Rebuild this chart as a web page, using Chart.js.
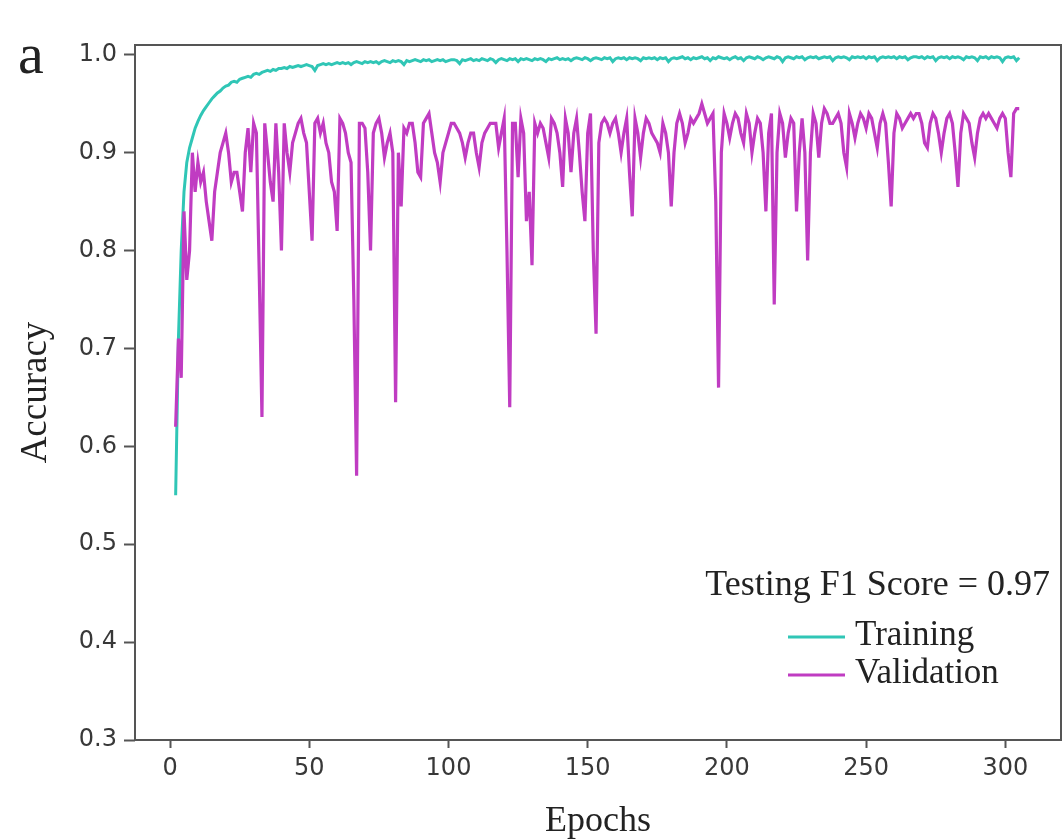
<!DOCTYPE html>
<html>
<head>
<meta charset="utf-8">
<script src="https://cdn.jsdelivr.net/npm/chart.js@4.4.0/dist/chart.umd.min.js"></script>
<style>
  html, body { margin: 0; padding: 0; background: #fff; }
  #wrap { width: 1063px; height: 839px; }
</style>
</head>
<body>
<div id="wrap"><canvas id="acc" width="1063" height="839"></canvas></div>
<script>
// accuracy curves, one value per epoch starting at firstEpoch
const firstEpoch = 2;

const training = [
  0.55, 0.71, 0.80, 0.86, 0.89, 0.905, 0.915, 0.925, 0.932, 0.938,
  0.943, 0.947, 0.951, 0.955, 0.958, 0.961, 0.963, 0.966, 0.968, 0.969,
  0.972, 0.973, 0.972, 0.975, 0.976, 0.977, 0.978, 0.977, 0.980, 0.981,
  0.980, 0.982, 0.983, 0.984, 0.983, 0.985, 0.984, 0.986, 0.986, 0.987,
  0.986, 0.988, 0.987, 0.988, 0.989, 0.988, 0.989, 0.990, 0.989, 0.988,
  0.984, 0.989, 0.990, 0.991, 0.990, 0.991, 0.990, 0.991, 0.992, 0.991,
  0.992, 0.991, 0.992, 0.990, 0.992, 0.993, 0.992, 0.991, 0.993, 0.992,
  0.993, 0.992, 0.993, 0.991, 0.993, 0.994, 0.993, 0.992, 0.994, 0.993,
  0.994, 0.993, 0.990, 0.994, 0.993, 0.994, 0.995, 0.994, 0.993, 0.995,
  0.994, 0.995, 0.993, 0.994, 0.995, 0.994, 0.995, 0.993, 0.994, 0.995,
  0.995, 0.994, 0.991, 0.995, 0.994, 0.995, 0.996, 0.994, 0.995, 0.994,
  0.996, 0.995, 0.994, 0.996, 0.995, 0.992, 0.995, 0.996, 0.995, 0.994,
  0.996, 0.995, 0.996, 0.993, 0.996, 0.995, 0.996, 0.995, 0.994, 0.996,
  0.995, 0.996, 0.995, 0.993, 0.996, 0.995, 0.996, 0.997, 0.995, 0.996,
  0.995, 0.996, 0.994, 0.996, 0.997, 0.996, 0.995, 0.997, 0.996, 0.994,
  0.996, 0.997, 0.996, 0.995, 0.997, 0.996, 0.997, 0.993, 0.996, 0.997,
  0.996, 0.997, 0.995, 0.997, 0.996, 0.997, 0.996, 0.994, 0.997, 0.996,
  0.997, 0.996, 0.997, 0.995, 0.997, 0.996, 0.997, 0.993, 0.996, 0.997,
  0.996, 0.997, 0.998, 0.996, 0.997, 0.995, 0.997, 0.996, 0.997, 0.998,
  0.996, 0.997, 0.994, 0.997, 0.996, 0.998, 0.997, 0.996, 0.997, 0.995,
  0.997, 0.998, 0.996, 0.997, 0.994, 0.997, 0.998, 0.997, 0.996, 0.998,
  0.997, 0.995, 0.997, 0.998, 0.997, 0.996, 0.998, 0.997, 0.993, 0.997,
  0.998, 0.997, 0.996, 0.998, 0.997, 0.998, 0.995, 0.997, 0.998, 0.997,
  0.998, 0.996, 0.997, 0.998, 0.997, 0.998, 0.994, 0.997, 0.998, 0.997,
  0.998, 0.997, 0.995, 0.998, 0.997, 0.998, 0.997, 0.998, 0.996, 0.998,
  0.997, 0.998, 0.994, 0.997, 0.998, 0.997, 0.998, 0.997, 0.998, 0.996,
  0.998, 0.997, 0.998, 0.995, 0.997, 0.998, 0.998, 0.997, 0.998, 0.996,
  0.998, 0.997, 0.998, 0.994, 0.997, 0.998, 0.997, 0.998, 0.996, 0.998,
  0.997, 0.998, 0.997, 0.995, 0.998, 0.997, 0.998, 0.997, 0.994, 0.998,
  0.997, 0.998, 0.996, 0.998, 0.997, 0.998, 0.997, 0.993, 0.997, 0.998,
  0.997, 0.998, 0.994, 0.997
];

const validation = [
  0.62, 0.71, 0.67, 0.84, 0.77, 0.80, 0.90, 0.86, 0.89, 0.87,
  0.88, 0.85, 0.83, 0.81, 0.86, 0.88, 0.90, 0.91, 0.92, 0.90,
  0.87, 0.88, 0.88, 0.86, 0.84, 0.90, 0.925, 0.88, 0.93, 0.92,
  0.78, 0.63, 0.93, 0.90, 0.87, 0.85, 0.93, 0.88, 0.80, 0.93,
  0.90, 0.88, 0.91, 0.92, 0.93, 0.935, 0.92, 0.91, 0.86, 0.81,
  0.93, 0.935, 0.92, 0.93, 0.91, 0.90, 0.87, 0.86, 0.82, 0.935,
  0.93, 0.92, 0.90, 0.89, 0.75, 0.57, 0.93, 0.93, 0.925, 0.88,
  0.80, 0.92, 0.93, 0.935, 0.92, 0.895, 0.91, 0.92, 0.90, 0.645,
  0.90, 0.845, 0.925, 0.92, 0.93, 0.93, 0.91, 0.88, 0.875, 0.93,
  0.935, 0.94, 0.92, 0.90, 0.89, 0.87, 0.90, 0.91, 0.92, 0.93,
  0.93, 0.925, 0.92, 0.91, 0.895, 0.91, 0.92, 0.92, 0.90, 0.885,
  0.91, 0.92, 0.925, 0.93, 0.93, 0.93, 0.905, 0.92, 0.935, 0.80,
  0.64, 0.93, 0.93, 0.875, 0.935, 0.92, 0.83, 0.86, 0.785, 0.93,
  0.92, 0.93, 0.925, 0.91, 0.895, 0.935, 0.93, 0.92, 0.90, 0.865,
  0.935, 0.92, 0.88, 0.92, 0.935, 0.90, 0.86, 0.83, 0.92, 0.94,
  0.80, 0.715, 0.91, 0.93, 0.935, 0.93, 0.92, 0.93, 0.935, 0.92,
  0.90, 0.92, 0.935, 0.88, 0.835, 0.935, 0.92, 0.895, 0.92, 0.935,
  0.93, 0.92, 0.915, 0.91, 0.90, 0.93, 0.92, 0.90, 0.845, 0.90,
  0.93, 0.94, 0.93, 0.91, 0.92, 0.935, 0.93, 0.935, 0.94, 0.95,
  0.94, 0.93, 0.935, 0.94, 0.85, 0.66, 0.90, 0.94, 0.93, 0.915,
  0.93, 0.94, 0.935, 0.92, 0.91, 0.94, 0.93, 0.90, 0.92, 0.935,
  0.93, 0.90, 0.84, 0.92, 0.94, 0.745, 0.90, 0.94, 0.93, 0.895,
  0.92, 0.935, 0.93, 0.84, 0.90, 0.935, 0.90, 0.79, 0.90, 0.94,
  0.93, 0.895, 0.93, 0.945, 0.94, 0.93, 0.93, 0.935, 0.94, 0.93,
  0.90, 0.885, 0.94, 0.93, 0.915, 0.93, 0.94, 0.935, 0.925, 0.94,
  0.935, 0.92, 0.905, 0.93, 0.94, 0.93, 0.89, 0.845, 0.92, 0.94,
  0.935, 0.925, 0.93, 0.935, 0.94, 0.935, 0.94, 0.94, 0.93, 0.91,
  0.905, 0.93, 0.94, 0.935, 0.92, 0.90, 0.92, 0.935, 0.94, 0.93,
  0.90, 0.865, 0.92, 0.94, 0.935, 0.93, 0.91, 0.895, 0.92, 0.935,
  0.94, 0.935, 0.94, 0.935, 0.93, 0.925, 0.935, 0.94, 0.935, 0.90,
  0.875, 0.94, 0.945, 0.945
];

const xTicks = [0, 50, 100, 150, 200, 250, 300];
const yTicks = [0.3, 0.4, 0.5, 0.6, 0.7, 0.8, 0.9, 1.0];
const seriesNames = ['Training', 'Validation'];
const seriesColors = ['#30c6b6', '#c03cc2'];
const scoreText = 'Testing F1 Score = 0.97';
const panelLetter = 'a';

const serif = '"Liberation Serif", "DejaVu Serif", serif';
const frameColor = '#555';

function toPoints(values) {
  return values.map((v, i) => ({ x: firstEpoch + i, y: v }));
}

// frame, panel letter, score text and legend
const extras = {
  id: 'extras',
  afterDraw(chart) {
    const { ctx, chartArea: a } = chart;
    ctx.save();
    ctx.strokeStyle = frameColor;
    ctx.lineWidth = 2;
    ctx.strokeRect(a.left, a.top, a.right - a.left, a.bottom - a.top);

    ctx.fillStyle = '#222';
    ctx.textBaseline = 'alphabetic';
    ctx.font = '58px ' + serif;
    ctx.textAlign = 'left';
    ctx.fillText(panelLetter, 18, 73);

    ctx.font = '36px ' + serif;
    ctx.textAlign = 'right';
    ctx.fillText(scoreText, 1050, 595);

    const rows = [637, 675];
    chart.data.datasets.forEach((ds, i) => {
      const y = rows[i];
      ctx.strokeStyle = ds.borderColor;
      ctx.lineWidth = 3.2;
      ctx.beginPath();
      ctx.moveTo(788, y);
      ctx.lineTo(845, y);
      ctx.stroke();
      ctx.fillStyle = '#222';
      ctx.font = '35px ' + serif;
      ctx.textAlign = 'left';
      ctx.fillText(ds.label, 855, y + 8);
    });
    ctx.restore();
  }
};

const tickFont = { family: '"DejaVu Sans", sans-serif', size: 24 };

new Chart(document.getElementById('acc'), {
  type: 'line',
  data: {
    datasets: [
      {
        label: seriesNames[0],
        data: toPoints(training),
        borderColor: seriesColors[0],
        borderWidth: 3,
        pointRadius: 0,
        tension: 0,
        order: 2
      },
      {
        label: seriesNames[1],
        data: toPoints(validation),
        borderColor: seriesColors[1],
        borderWidth: 3.2,
        pointRadius: 0,
        tension: 0,
        order: 1
      }
    ]
  },
  options: {
    responsive: false,
    animation: false,
    layout: { padding: { top: 45, right: 2, left: 0, bottom: 0 } },
    plugins: {
      legend: { display: false },
      tooltip: { enabled: false }
    },
    scales: {
      x: {
        type: 'linear',
        min: -12.6,
        max: 320,
        afterBuildTicks: s => { s.ticks = xTicks.map(v => ({ value: v })); },
        afterFit: s => { s.height = 99; },
        border: { display: false },
        grid: { drawOnChartArea: false, drawTicks: true, tickLength: 8, tickColor: frameColor, tickWidth: 2 },
        ticks: { font: tickFont, color: '#383838', padding: 6, maxRotation: 0 },
        title: {
          display: true,
          text: 'Epochs',
          font: { family: serif, size: 36 },
          color: '#222',
          padding: { top: 0, bottom: -4 }
        }
      },
      y: {
        min: 0.3,
        max: 1.01,
        afterBuildTicks: s => { s.ticks = yTicks.map(v => ({ value: v })); },
        afterFit: s => { s.width = 135; },
        border: { display: false },
        grid: { drawOnChartArea: false, drawTicks: true, tickLength: 11, tickColor: frameColor, tickWidth: 2 },
        ticks: { font: tickFont, color: '#383838', padding: 7, callback: v => v.toFixed(1) },
        title: {
          display: true,
          text: 'Accuracy',
          font: { family: serif, size: 37 },
          color: '#222',
          padding: { top: 14, bottom: 0 }
        }
      }
    }
  },
  plugins: [extras]
});
</script>
</body>
</html>
